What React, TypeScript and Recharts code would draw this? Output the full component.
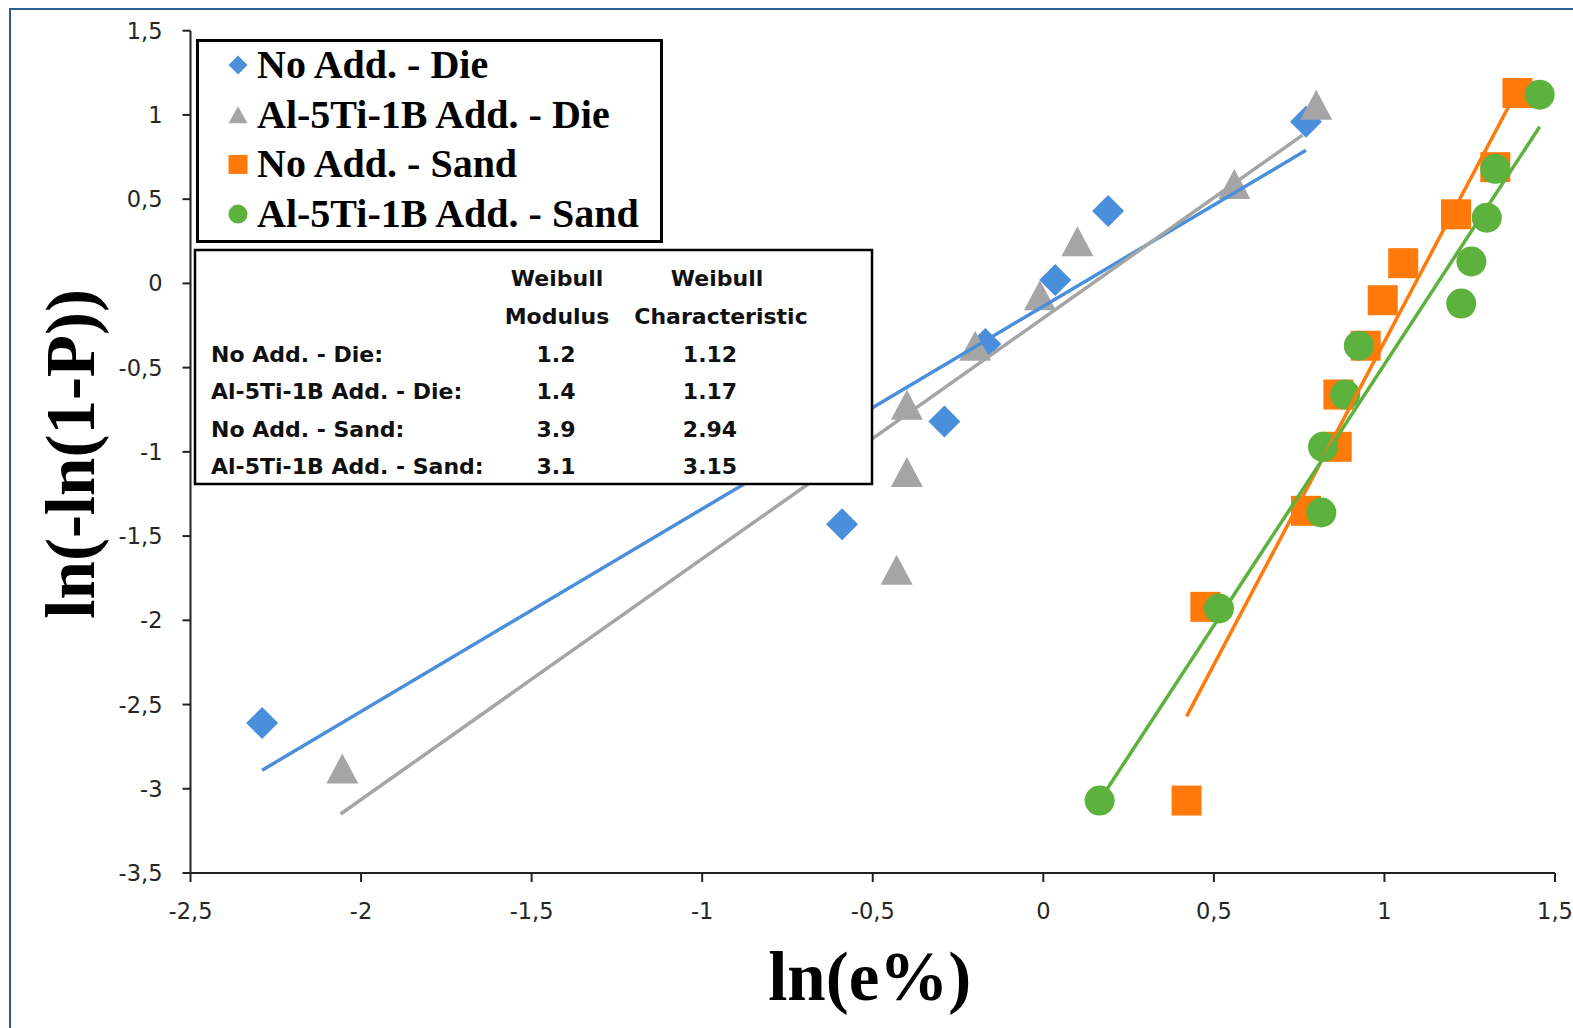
import React from 'react';
import { ScatterChart, Scatter, XAxis, YAxis, Legend, Label } from 'recharts';

// ---------- data ----------
const seriesNames = ['No Add. - Die', 'Al-5Ti-1B Add. - Die', 'No Add. - Sand', 'Al-5Ti-1B Add. - Sand'];

const noAddDieX = [-2.29, -0.59, -0.29, -0.17, 0.035, 0.19, 0.77];
const noAddDieY = [-2.61, -1.43, -0.82, -0.36, 0.02, 0.43, 0.96];

const tiDieX = [-2.055, -0.43, -0.40, -0.40, -0.20, -0.01, 0.10, 0.56, 0.80];
const tiDieY = [-2.88, -1.70, -1.12, -0.72, -0.37, -0.07, 0.25, 0.59, 1.06];

const noAddSandX = [0.42, 0.475, 0.77, 0.86, 0.865, 0.945, 0.995, 1.055, 1.21, 1.325, 1.39];
const noAddSandY = [-3.07, -1.92, -1.35, -0.97, -0.66, -0.37, -0.10, 0.12, 0.41, 0.69, 1.13];

const tiSandX = [0.165, 0.515, 0.815, 0.82, 0.885, 0.925, 1.225, 1.255, 1.30, 1.325, 1.455];
const tiSandY = [-3.07, -1.93, -1.36, -0.97, -0.66, -0.37, -0.12, 0.13, 0.39, 0.68, 1.12];

// trend line end points
const trendNoAddDieX = [-2.29, 0.77];
const trendNoAddDieY = [-2.89, 0.79];
const trendTiDieX = [-2.06, 0.76];
const trendTiDieY = [-3.15, 0.88];
const trendNoAddSandX = [0.42, 1.385];
const trendNoAddSandY = [-2.57, 1.13];
const trendTiSandX = [0.165, 1.455];
const trendTiSandY = [-3.07, 0.93];

const xTicks = [-2.5, -2, -1.5, -1, -0.5, 0, 0.5, 1, 1.5];
const yTicks = [-3.5, -3, -2.5, -2, -1.5, -1, -0.5, 0, 0.5, 1, 1.5];

const tableHeader1 = ['Weibull', 'Weibull'];
const tableHeader2 = ['Modulus', 'Characteristic'];
const tableLabels = ['No Add. - Die:', 'Al-5Ti-1B Add. - Die:', 'No Add. - Sand:', 'Al-5Ti-1B Add. - Sand:'];
const tableModulus = ['1.2', '1.4', '3.9', '3.1'];
const tableCharacteristic = ['1.12', '1.17', '2.94', '3.15'];

// ---------- helpers ----------
const zip = (xs: number[], ys: number[]) => xs.map((x, i) => ({ x, y: ys[i] }));

const BLUE = '#4a8fdc';
const GRAY = '#a5a5a5';
const ORANGE = '#ff7a0a';
const GREEN = '#5cb23c';

const diamond = (cx: number, cy: number, r: number, fill: string) => (
  <polygon points={`${cx},${cy - r} ${cx + r},${cy} ${cx},${cy + r} ${cx - r},${cy}`} fill={fill} />
);
const triangle = (cx: number, cy: number, w: number, h: number, fill: string) => (
  <polygon points={`${cx},${cy - h / 2} ${cx + w / 2},${cy + h / 2} ${cx - w / 2},${cy + h / 2}`} fill={fill} />
);
const square = (cx: number, cy: number, s: number, fill: string) => (
  <rect x={cx - s / 2} y={cy - s / 2} width={s} height={s} fill={fill} />
);
const circle = (cx: number, cy: number, d: number, fill: string) => <circle cx={cx} cy={cy} r={d / 2} fill={fill} />;

const markers = [
  (cx: number, cy: number, big: boolean) => diamond(cx, cy, big ? 16 : 9.5, BLUE),
  (cx: number, cy: number, big: boolean) => triangle(cx, cy, big ? 32 : 19, big ? 30 : 17, GRAY),
  (cx: number, cy: number, big: boolean) => square(cx, cy, big ? 30 : 19, ORANGE),
  (cx: number, cy: number, big: boolean) => circle(cx, cy, big ? 30 : 19, GREEN),
];

const fmt = (v: number) => String(v).replace('.', ',');

const LegendBox = () => (
  <svg width={470} height={206} style={{ display: 'block' }}>
    <rect x={1.5} y={1.5} width={464} height={201} fill="#fff" stroke="#000" strokeWidth={3} />
    {seriesNames.map((name, i) => {
      const cy = 26 + i * 49.7;
      return (
        <g key={name}>
          {markers[i](42, cy, false)}
          <text
            x={61}
            y={cy + 13}
            fontFamily="'Liberation Serif', 'Times New Roman', serif"
            fontWeight="bold"
            fontSize={40}
            fill="#000"
          >
            {name}
          </text>
        </g>
      );
    })}
  </svg>
);

const tableFont = "'DejaVu Sans', sans-serif";

const TableBox = () => (
  <svg
    width={682}
    height={240}
    style={{ position: 'absolute', left: 193, top: 248, display: 'block' }}
  >
    <rect x={2} y={2} width={677} height={234} fill="#fff" stroke="#000" strokeWidth={2.5} />
    <g fontFamily={tableFont} fontWeight="bold" fontSize={22} fill="#111">
      <text x={364} y={38} textAnchor="middle">{tableHeader1[0]}</text>
      <text x={524} y={38} textAnchor="middle">{tableHeader1[1]}</text>
      <text x={364} y={76} textAnchor="middle">{tableHeader2[0]}</text>
      <text x={528} y={76} textAnchor="middle">{tableHeader2[1]}</text>
      {tableLabels.map((lab, i) => {
        const y = 114 + i * 37.3;
        return (
          <g key={lab}>
            <text x={18} y={y}>{lab}</text>
            <text x={363} y={y} textAnchor="middle">{tableModulus[i]}</text>
            <text x={517} y={y} textAnchor="middle">{tableCharacteristic[i]}</text>
          </g>
        );
      })}
    </g>
  </svg>
);

const YTitle = (props: any) => {
  const vb = props.viewBox || { x: 130.5, y: 30.7, width: 60, height: 842 };
  const x = vb.x - 36;
  const y = vb.y + vb.height / 2 + 2;
  return (
    <text
      x={x}
      y={y}
      transform={`rotate(-90 ${x} ${y})`}
      textAnchor="middle"
      fontFamily="'Liberation Serif', 'Times New Roman', serif"
      fontWeight="bold"
      fontSize={69}
      fill="#000"
    >
      ln(-ln(1-P))
    </text>
  );
};

const XTitle = (props: any) => {
  const vb = props.viewBox || { x: 190.5, y: 873, width: 1364.5, height: 60 };
  const x = vb.x + vb.width / 2 - 3;
  const y = vb.y + 127;
  return (
    <text
      x={x}
      y={y}
      textAnchor="middle"
      fontFamily="'Liberation Serif', 'Times New Roman', serif"
      fontWeight="bold"
      fontSize={69}
      fill="#000"
    >
      ln(e%)
    </text>
  );
};

const noShape = () => <g />;

export default function App() {
  const scatters = [
    zip(noAddDieX, noAddDieY),
    zip(tiDieX, tiDieY),
    zip(noAddSandX, noAddSandY),
    zip(tiSandX, tiSandY),
  ];
  const trends = [
    { data: zip(trendNoAddDieX, trendNoAddDieY), color: BLUE },
    { data: zip(trendTiDieX, trendTiDieY), color: GRAY },
    { data: zip(trendNoAddSandX, trendNoAddSandY), color: ORANGE },
    { data: zip(trendTiSandX, trendTiSandY), color: GREEN },
  ];
  const tickStyle = { fontFamily: "'DejaVu Sans', sans-serif", fontSize: 22.5, fill: '#262626' };
  return (
    <div style={{ position: 'absolute', left: 0, top: 0, width: 1573, height: 1028, background: '#fff', overflow: 'hidden' }}>
      <div
        style={{
          position: 'absolute',
          left: 9,
          top: 8,
          width: 1600,
          height: 1100,
          borderLeft: '2.5px solid #2d5e92',
          borderTop: '2.5px solid #2d5e92',
        }}
      />
      <ScatterChart
        width={1573}
        height={1028}
        margin={{ top: 30.7, right: 18, bottom: 95, left: 130.5 }}
        style={{ position: 'absolute', left: 0, top: 0 }}
      >
        <XAxis
          type="number"
          dataKey="x"
          domain={[-2.5, 1.5]}
          ticks={xTicks}
          tickFormatter={fmt}
          height={60}
          allowDataOverflow
          stroke="#222"
          strokeWidth={2}
          tickSize={9}
          tickMargin={21}
          tick={tickStyle}
          tickLine={{ stroke: '#222', strokeWidth: 2 }}
        >
          <Label content={<XTitle />} />
        </XAxis>
        <YAxis
          type="number"
          dataKey="y"
          domain={[-3.5, 1.5]}
          ticks={yTicks}
          tickFormatter={fmt}
          width={60}
          allowDataOverflow
          stroke="#222"
          strokeWidth={2}
          tickSize={8}
          tickMargin={20}
          tick={tickStyle}
          tickLine={{ stroke: '#222', strokeWidth: 2 }}
        >
          <Label content={<YTitle />} />
        </YAxis>
        {scatters.map((data, i) => (
          <Scatter
            key={seriesNames[i]}
            name={seriesNames[i]}
            data={data}
            isAnimationActive={false}
            shape={(p: any) => markers[i](p.cx, p.cy, true)}
          />
        ))}
        {trends.map((t, i) => (
          <Scatter
            key={'trend' + i}
            name={'trend' + i}
            data={t.data}
            isAnimationActive={false}
            line={{ stroke: t.color, strokeWidth: 3.5 }}
            shape={noShape}
            legendType="none"
          />
        ))}
        <Legend
          layout="vertical"
          align="center"
          verticalAlign="middle"
          content={() => <LegendBox />}
          wrapperStyle={{ position: 'absolute', left: 195.5, top: 38.5, width: 470, height: 206 }}
        />
      </ScatterChart>
      <TableBox />
    </div>
  );
}
